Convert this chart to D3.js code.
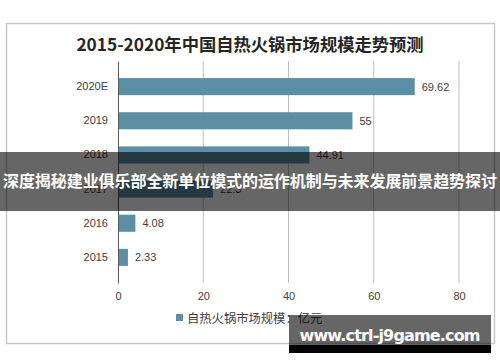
<!DOCTYPE html>
<html>
<head>
<meta charset="utf-8">
<script src="https://cdn.jsdelivr.net/npm/d3@7"></script>
<style>
  body { margin: 0; background: #fff; }
  svg { display: block; font-family: "Liberation Sans", "Noto Sans CJK SC", sans-serif; }
</style>
</head>
<body>
<div id="chart"></div>
<script>
// data
const years = ["2020E", "2019", "2018", "2017", "2016", "2015"];
const sizes = [69.62, 55, 44.91, 22.3, 4.08, 2.33];
const ticks = [0, 20, 40, 60, 80];

const W = 500, H = 362;
const svg = d3.select("#chart").append("svg")
  .attr("width", W).attr("height", H);

// outer frame
svg.append("rect")
  .attr("x", 6.5).attr("y", 23.5)
  .attr("width", 488).attr("height", 320)
  .attr("fill", "#fff").attr("stroke", "#c8c8c8").attr("stroke-width", 1.5);

svg.append("text")
  .attr("x", 250).attr("y", 51)
  .attr("text-anchor", "middle")
  .attr("font-family", "'Noto Sans CJK SC', sans-serif")
  .attr("font-size", 17.3).attr("font-weight", "bold")
  .attr("fill", "#262626")
  .text("2015-2020年中国自热火锅市场规模走势预测");

const x = d3.scaleLinear().domain([0, 80]).range([118, 459]);
const y = d3.scaleBand().domain(years).range([61, 283]).padding(0.5);

// grid
svg.append("g").selectAll("line")
  .data(ticks.slice(1)).join("line")
  .attr("x1", d => x(d)).attr("x2", d => x(d))
  .attr("y1", 61).attr("y2", 283)
  .attr("stroke", "#bfbfbf").attr("stroke-width", 1);

// bars
svg.append("g").selectAll("rect")
  .data(sizes).join("rect")
  .attr("x", x(0))
  .attr("y", (d, i) => y(years[i]))
  .attr("width", d => x(d) - x(0))
  .attr("height", y.bandwidth())
  .attr("fill", "#5b8fa6");

svg.append("g").selectAll("text")
  .data(sizes).join("text")
  .attr("x", d => x(d) + 7)
  .attr("y", (d, i) => y(years[i]) + y.bandwidth() / 2 + 4)
  .attr("font-size", 11).attr("fill", "#404040")
  .text(d => d);

// y axis
const yAxis = svg.append("g")
  .attr("transform", `translate(${x(0)},0)`)
  .call(d3.axisLeft(y).tickSize(0).tickPadding(10));
yAxis.select(".domain").attr("stroke", "#595959");
yAxis.selectAll("text").attr("font-size", 11).attr("fill", "#404040")
  .attr("font-family", "'Liberation Sans', sans-serif");

// x axis
const xAxis = svg.append("g")
  .attr("transform", "translate(0,283)")
  .call(d3.axisBottom(x).tickValues(ticks).tickSize(0).tickPadding(9));
xAxis.select(".domain").remove();
xAxis.selectAll("text").attr("font-size", 11).attr("fill", "#404040")
  .attr("font-family", "'Liberation Sans', sans-serif");

// legend
svg.append("rect")
  .attr("x", 176).attr("y", 314).attr("width", 7).attr("height", 7)
  .attr("fill", "#5b8fa6");
svg.append("text")
  .attr("x", 187).attr("y", 323)
  .attr("font-family", "'Noto Sans CJK SC', sans-serif")
  .attr("font-size", 12.3).attr("fill", "#404040")
  .text("自热火锅市场规模：亿元");

// banner overlay
svg.append("rect")
  .attr("x", 0).attr("y", 152).attr("width", W).attr("height", 59)
  .attr("fill", "rgba(0,0,0,0.6)");
svg.append("text")
  .attr("x", 250).attr("y", 187)
  .attr("text-anchor", "middle")
  .attr("font-family", "'Noto Sans CJK SC', sans-serif")
  .attr("font-size", 16).attr("font-weight", "bold")
  .attr("fill", "#fff")
  .attr("textLength", 494)
  .text("深度揭秘建业俱乐部全新单位模式的运作机制与未来发展前景趋势探讨");

// watermark
svg.append("rect")
  .attr("x", 289).attr("y", 315).attr("width", 202).attr("height", 30)
  .attr("fill", "rgba(0,0,0,0.6)");
svg.append("rect")
  .attr("x", 289).attr("y", 345).attr("width", 202).attr("height", 8)
  .attr("fill", "#000");
svg.append("text")
  .attr("x", 390).attr("y", 341)
  .attr("text-anchor", "middle")
  .attr("font-family", "'DejaVu Sans', sans-serif")
  .attr("font-size", 16).attr("font-weight", "bold")
  .attr("fill", "#fff")
  .attr("textLength", 181)
  .text("www.ctrl-j9game.com");
</script>
</body>
</html>
